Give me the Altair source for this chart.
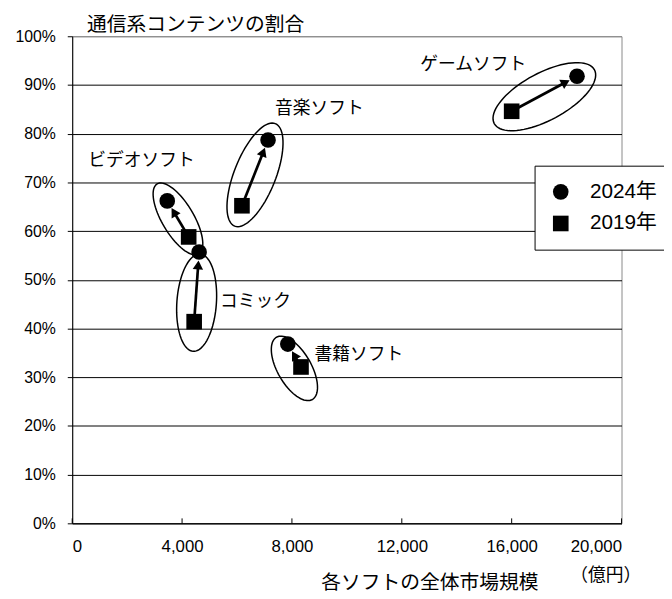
import math
import altair as alt
import pandas as pd

# ---------------- data ----------------
categories = ["ゲームソフト", "音楽ソフト", "ビデオソフト", "コミック", "書籍ソフト"]
market_2019 = [16000, 6180, 4240, 4440, 8330]      # 億円
share_2019 = [0.846, 0.652, 0.588, 0.414, 0.321]
market_2024 = [18380, 7130, 3460, 4620, 7850]
share_2024 = [0.918, 0.787, 0.662, 0.557, 0.368]
years = ["2024年", "2019年"]
x_ticks = [0, 4000, 8000, 12000, 16000, 20000]
y_ticks = [0, 0.1, 0.2, 0.3, 0.4, 0.5, 0.6, 0.7, 0.8, 0.9, 1.0]
title_text = "通信系コンテンツの割合"
x_title = "各ソフトの全体市場規模"
x_unit = "（億円）"

# ---------------- layout ----------------
W, H = 556, 493
XMAX = 20000
PX = W / XMAX      # pixels per 億円
PY = H / 1.0       # pixels per unit share
JP = "Noto Sans CJK JP"
NUM = "Liberation Sans, Noto Sans CJK JP"

# label offsets (px) relative to the 2024 point
label_offsets = {
    "ゲームソフト": (-105, -11),
    "音楽ソフト": (52, -31),
    "ビデオソフト": (-26, -40),
    "コミック": (57, 51),
    "書籍ソフト": (72, 11),
}
# ellipse tweaks: (extra half-length px, half-width px, downward shift px)
ellipse_style = {
    "ゲームソフト": (20, 24, 3),
    "音楽ソフト": (20, 21, 2),
    "ビデオソフト": (20, 16, 0),
    "コミック": (14, 20, 16),
    "書籍ソフト": (23, 17, 13),
}

# ---------------- derived tables ----------------
rows = []
for i, c in enumerate(categories):
    rows.append(dict(cat=c, year=years[0], x=market_2024[i], y=share_2024[i]))
    rows.append(dict(cat=c, year=years[1], x=market_2019[i], y=share_2019[i]))
pts = pd.DataFrame(rows)

R_CIRCLE = 8.5
HEAD = 110
head_h = math.sqrt(3) / 2 * math.sqrt(HEAD) / 2

arrow_rows, ell_rows = [], []
for i, c in enumerate(categories):
    sx, sy = market_2019[i] * PX, -share_2019[i] * PY
    ex, ey = market_2024[i] * PX, -share_2024[i] * PY
    dx, dy = ex - sx, ey - sy
    L = math.hypot(dx, dy)
    ux, uy = dx / L, dy / L
    tipx, tipy = ex - ux * R_CIRCLE, ey - uy * R_CIRCLE
    hx, hy = tipx - ux * head_h, tipy - uy * head_h
    ang = math.degrees(math.atan2(ux, -uy)) % 360
    arrow_rows.append(dict(cat=c, x=market_2019[i], y=share_2019[i],
                           x2=hx / PX, y2=-hy / PY, ang=ang))
    ea, b, shift = ellipse_style[c]
    a = L / 2 + ea
    cx, cy = (sx + ex) / 2, (sy + ey) / 2 + shift
    th = math.atan2(dy, dx)
    n = 80
    for k in range(n + 1):
        t = 2 * math.pi * k / n
        px = cx + a * math.cos(t) * math.cos(th) - b * math.sin(t) * math.sin(th)
        py = cy + a * math.cos(t) * math.sin(th) + b * math.sin(t) * math.cos(th)
        ell_rows.append(dict(cat=c, k=k, x=px / PX, y=-py / PY))
arrows = pd.DataFrame(arrow_rows)
ells = pd.DataFrame(ell_rows)

xs = alt.Scale(domain=[0, XMAX], nice=False, zero=True)
ys = alt.Scale(domain=[0, 1], nice=False)
x_axis = alt.Axis(
    values=x_ticks, format=",.0f", title=None, grid=False, ticks=False,
    labelFont=NUM, labelFontSize=17, labelColor="black", labelPadding=16,
    domainColor="black", domainWidth=1)
y_axis = alt.Axis(
    values=y_ticks, format=".0%", title=None, grid=True,
    gridColor={"expr": "datum.value >= 1 ? '#888888' : '#000000'"}, gridWidth=1,
    ticks=True, tickSize=5, tickColor="black",
    labelFont=NUM, labelFontSize=16, labelColor="black", labelPadding=12,
    domainColor="black", domainWidth=1)


def X(field):
    return alt.X(field, scale=xs, axis=x_axis, title=None)


def Y(field):
    return alt.Y(field, scale=ys, axis=y_axis, title=None)


# ---------------- layers ----------------
xtick_marks = alt.Chart(pd.DataFrame({"v": x_ticks})).mark_rule(color="black", strokeWidth=1).encode(
    x=X("v:Q"),
    y=alt.value(H - 5), y2=alt.value(H),
)

ellipse_layer = alt.Chart(ells).mark_line(color="black", strokeWidth=1.5).encode(
    x=X("x:Q"), y=Y("y:Q"),
    detail="cat:N",
    order="k:Q",
)

arrow_lines = alt.Chart(arrows).mark_rule(color="black", strokeWidth=2.7).encode(
    x=X("x:Q"), y=Y("y:Q"),
    x2="x2:Q", y2="y2:Q",
)
arrow_heads = alt.Chart(arrows).mark_point(
    shape="triangle-up", filled=True, size=HEAD, color="black", opacity=1, strokeWidth=0
).encode(
    x=X("x2:Q"), y=Y("y2:Q"),
    angle=alt.Angle("ang:Q", scale=None),
)

points = alt.Chart(pts).mark_point(filled=True, color="black", opacity=1, size=250, strokeWidth=0).encode(
    x=X("x:Q"), y=Y("y:Q"),
    shape=alt.Shape("year:N", scale=alt.Scale(domain=years, range=["circle", "square"]),
                    legend=alt.Legend(title=None, orient="none", legendX=468, legendY=131,
                                      strokeColor="black", fillColor="white", padding=16,
                                      rowPadding=10, labelFont=NUM, labelFontSize=21,
                                      labelColor="black", symbolSize=250, labelOffset=19,
                                      symbolFillColor="black", symbolStrokeWidth=0)),
)

label_layers = []
for i, c in enumerate(categories):
    ddx, ddy = label_offsets[c]
    label_layers.append(
        alt.Chart(pd.DataFrame({"x": [market_2024[i]], "y": [share_2024[i]], "t": [c]}))
        .mark_text(font=JP, fontSize=18, color="black", dx=ddx, dy=ddy,
                   align="center", baseline="middle")
        .encode(x=X("x:Q"), y=Y("y:Q"), text="t:N")
    )

one = pd.DataFrame({"t": [0]})
title_layer = alt.Chart(one).mark_text(
    text=title_text, font=JP, fontSize=20, color="black", align="left", baseline="middle"
).encode(x=alt.value(15), y=alt.value(-11))
xtitle_layer = alt.Chart(one).mark_text(
    text=x_title, font=JP, fontSize=20, color="black", align="center", baseline="middle"
).encode(x=alt.value(362), y=alt.value(553))
xunit_layer = alt.Chart(one).mark_text(
    text=x_unit, font=JP, fontSize=18, color="black", align="center", baseline="middle"
).encode(x=alt.value(540), y=alt.value(546))

chart = alt.layer(
    xtick_marks, ellipse_layer, arrow_lines, arrow_heads, points,
    *label_layers, title_layer, xtitle_layer, xunit_layer
).properties(
    width=W, height=H,
    autosize=alt.AutoSizeParams(type="none"),
    padding={"left": 65, "top": 25, "right": 43, "bottom": 73},
    background="white",
).configure_view(stroke="#888888", strokeWidth=1)

chart.save("out.html", embed_options={"renderer": "svg", "actions": False})
